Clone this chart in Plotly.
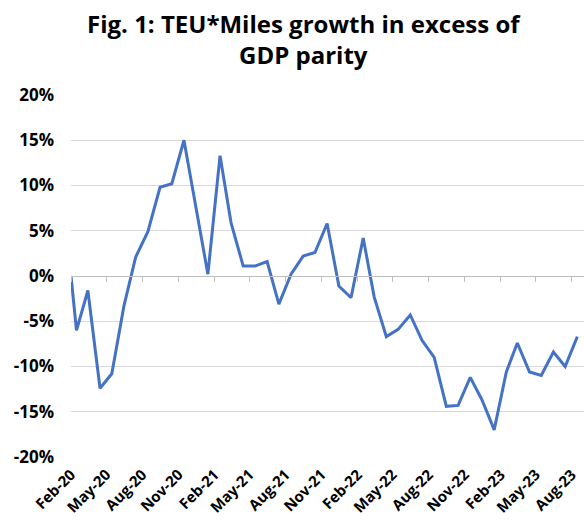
import pandas as pd
import plotly.graph_objects as go

# Data: first point is the base at the start of Feb-20, then monthly (mid-month) readings
start_date = "2020-02-01"
start_value = 0.0
months = pd.date_range("2020-02-01", "2023-08-01", freq="MS")
values = [-6.0, -1.6, -12.4, -10.8, -3.3, 2.1, 4.9, 9.8, 10.2, 15.0, 7.6, 0.2,
          13.3, 5.9, 1.1, 1.1, 1.6, -3.1, 0.2, 2.2, 2.6, 5.8, -1.1, -2.4,
          4.2, -2.3, -6.7, -5.9, -4.3, -7.1, -9.0, -14.4, -14.3, -11.2, -13.7, -17.0,
          -10.6, -7.4, -10.6, -11.0, -8.4, -10.0, -6.7]
y_ticks = [-20, -15, -10, -5, 0, 5, 10, 15, 20]
y_tick_labels = [f"{v}%" for v in y_ticks]
x_tick_dates = pd.date_range("2020-02-01", "2023-08-01", freq="3MS")
x_tick_labels = [d.strftime("%b-%y") for d in x_tick_dates]
title_text = "<b>Fig. 1: TEU*Miles growth in excess of<br>GDP parity</b>"

x = [pd.Timestamp(start_date)] + [m + pd.Timedelta(days=14) for m in months]
y = [start_value] + values

fig = go.Figure()
fig.add_trace(go.Scatter(x=x, y=y, mode="lines",
                         line=dict(color="#4472C4", width=3), showlegend=False,
                         hoverinfo="skip"))

x_range = ["2020-02-01", "2023-09-01"]
font_family = "Open Sans, Noto Sans, sans-serif"

fig.update_layout(
    width=584, height=520,
    margin=dict(l=71, r=0, t=95, b=63),
    paper_bgcolor="white", plot_bgcolor="white",
    xaxis=dict(type="date", range=x_range, tickvals=x_tick_dates, ticktext=x_tick_labels,
               tickangle=-45, showgrid=False, zeroline=False, showline=False, ticks="",
               ticklabelstandoff=5, automargin=False,
               tickfont=dict(family=font_family, size=15, color="black", weight="bold")),
    xaxis2=dict(type="date", range=x_range, tickvals=x_tick_dates, overlaying="x",
                anchor="free", position=0.5, side="bottom", showgrid=False,
                showticklabels=False, showline=True, linecolor="#bfbfbf", linewidth=1,
                ticks="outside", ticklen=5, tickcolor="#bfbfbf", zeroline=False,
                automargin=False),
    yaxis=dict(range=[-20, 20], tickvals=y_ticks, ticktext=y_tick_labels,
               showgrid=True, gridcolor="#d9d9d9", gridwidth=1, zeroline=False,
               showline=False, ticks="", ticklabelstandoff=16, automargin=False,
               tickfont=dict(family=font_family, size=17, color="black", weight="bold")),
    annotations=[dict(text=title_text, xref="paper", yref="paper", x=0.454, y=1.25,
                      xanchor="center", yanchor="top", showarrow=False, align="center",
                      font=dict(family=font_family, size=24, color="black"))],
)
# invisible trace to attach xaxis2
fig.add_trace(go.Scatter(x=[x[0]], y=[0], xaxis="x2", mode="markers",
                         marker=dict(opacity=0), showlegend=False, hoverinfo="skip"))

fig.write_html("out.html")
